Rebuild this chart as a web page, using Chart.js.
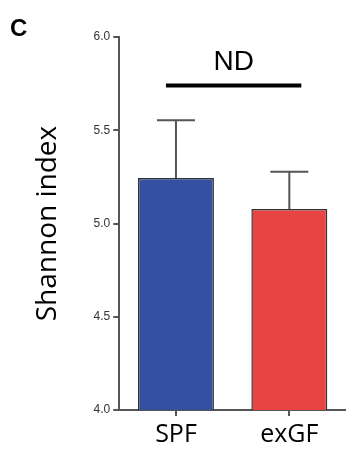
<!DOCTYPE html>
<html>
<head>
<meta charset="utf-8">
<script src="https://cdn.jsdelivr.net/npm/chart.js@4"></script>
<style>
    html, body { margin: 0; padding: 0; background: #fff; }
    #wrap { position: relative; width: 346px; height: 454px; }
</style>
</head>
<body>
<div id="wrap"><canvas id="shannon-chart" width="346" height="454"></canvas></div>
<script>
// data
var groups = ['SPF', 'exGF'];
var shannon_mean = [5.244, 5.078];
var shannon_err = [0.31, 0.20];
var bar_colors = ['#3450A1', '#E84444'];
var y_ticks = [4.0, 4.5, 5.0, 5.5, 6.0];
var panel_label = 'C';
var sig_label = 'ND';

// error bars (upper only) + ND line + panel letter
var extras = {
    id: 'extras',
    afterDatasetsDraw: function (chart) {
        var ctx = chart.ctx;
        var x = chart.scales.x;
        var y = chart.scales.y;
        ctx.save();
        ctx.strokeStyle = '#555';
        ctx.lineWidth = 2;
        shannon_mean.forEach(function (v, i) {
            var px = x.getPixelForValue(i);
            var top = y.getPixelForValue(v + shannon_err[i]);
            ctx.beginPath();
            ctx.moveTo(px, y.getPixelForValue(v));
            ctx.lineTo(px, top);
            ctx.moveTo(px - 19, top);
            ctx.lineTo(px + 19, top);
            ctx.stroke();
        });

        // ND line
        var x0 = x.getPixelForValue(0) - 10;
        var x1 = x.getPixelForValue(1) + 12;
        var ly = y.getPixelForValue(5.74);
        ctx.strokeStyle = '#000';
        ctx.lineWidth = 4;
        ctx.beginPath();
        ctx.moveTo(x0, ly);
        ctx.lineTo(x1, ly);
        ctx.stroke();

        ctx.fillStyle = '#000';
        ctx.textAlign = 'center';
        ctx.textBaseline = 'alphabetic';
        ctx.font = '28px "Liberation Sans", Arial, sans-serif';
        ctx.fillText(sig_label, (x0 + x1) / 2, ly - 15);

        ctx.textAlign = 'left';
        ctx.font = 'bold 24px "Liberation Sans", Arial, sans-serif';
        ctx.fillText(panel_label, 10, 36);
        ctx.restore();
    }
};

var ctx = document.getElementById('shannon-chart').getContext('2d');
var myChart = new Chart(ctx, {
    type: 'bar',
    data: {
        labels: groups,
        datasets: [{
            data: shannon_mean,
            backgroundColor: bar_colors,
            borderColor: '#333',
            borderWidth: 1.5,
            borderSkipped: false,
            categoryPercentage: 1,
            barPercentage: 0.67
        }]
    },
    options: {
        responsive: false,
        animation: false,
        devicePixelRatio: 1,
        layout: { padding: { top: 37, left: 31, right: 0, bottom: 0 } },
        plugins: {
            legend: { display: false },
            tooltip: { enabled: false }
        },
        scales: {
            y: {
                min: 4,
                max: 6,
                afterBuildTicks: function (axis) {
                    axis.ticks = y_ticks.map(function (v) { return { value: v }; });
                },
                ticks: {
                    color: '#333',
                    font: { family: '"Liberation Sans", Arial, sans-serif', size: 12 },
                    padding: 3,
                    callback: function (v) { return Number(v).toFixed(1); }
                },
                grid: { drawOnChartArea: false, drawTicks: true, tickLength: 6, color: '#555', lineWidth: 2 },
                border: { color: '#555', width: 2 },
                title: {
                    display: true,
                    text: 'Shannon index',
                    color: '#000',
                    font: { family: '"Open Sans", sans-serif', size: 28 },
                    padding: { top: 0, bottom: 26 }
                }
            },
            x: {
                offset: true,
                ticks: {
                    color: '#000',
                    font: { family: '"Open Sans", sans-serif', size: 25 },
                    padding: 4
                },
                grid: { drawOnChartArea: false, drawTicks: true, tickLength: 6, color: '#555', lineWidth: 2, offset: false },
                border: { color: '#555', width: 2 }
            }
        }
    },
    plugins: [extras]
});
</script>
</body>
</html>
